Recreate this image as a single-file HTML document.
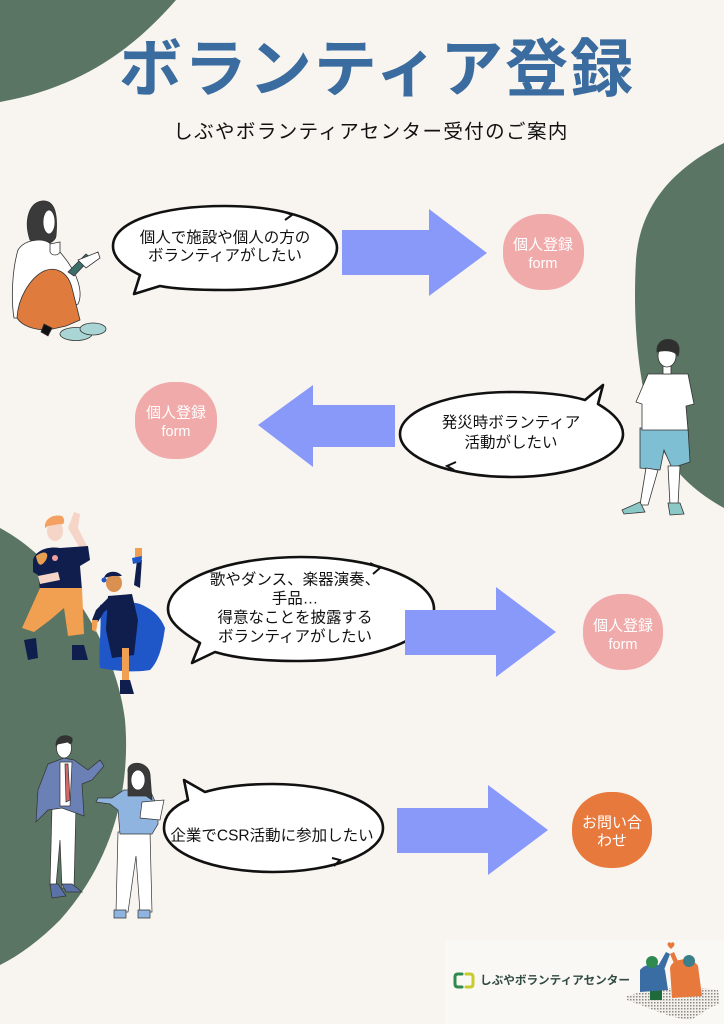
<!DOCTYPE html>
<html lang="ja">
<head>
<meta charset="utf-8">
<style>
  html,body{margin:0;padding:0;background:#f8f5f0;}
  body{width:724px;height:1024px;overflow:hidden;}
  svg{display:block;}
  text{font-family:"Liberation Sans","Noto Sans CJK JP",sans-serif;}
</style>
</head>
<body>
<svg width="724" height="1024" viewBox="0 0 724 1024" xmlns="http://www.w3.org/2000/svg">
  <defs>
    <pattern id="hatch" width="3" height="3" patternUnits="userSpaceOnUse">
      <rect width="3" height="3" fill="#f3f0ea"/>
      <rect width="1.5" height="1.5" fill="#8a8a8a"/>
    </pattern>
  </defs>
  <rect width="724" height="1024" fill="#f8f5f0"/>

  <!-- green blobs -->
  <path d="M0,0 L176,0 C145,35 95,85 0,102 Z" fill="#5a7563"/>
  <path d="M724,143 C680,165 640,200 636,260 C632,330 640,400 660,445 C675,475 700,495 724,508 Z" fill="#5a7563"/>
  <path d="M0,528 C60,560 115,640 125,720 C132,800 105,870 60,920 C40,940 20,955 0,965 Z" fill="#5a7563"/>

  <!-- title -->
  <text x="377" y="70" font-size="63" font-weight="700" fill="#3b6c9f" text-anchor="middle" dominant-baseline="central" letter-spacing="2">ボランティア登録</text>
  <text x="371" y="132" font-size="19.5" fill="#111" text-anchor="middle" dominant-baseline="central" letter-spacing="1.4">しぶやボランティアセンター受付のご案内</text>

  <!-- ========== ROW 1 ========== -->
  <!-- woman sitting -->
  <g stroke="#333" stroke-width="0.8">
    <path d="M30,240 C24,222 28,203 42,201 C55,200 58,214 56,236 C55,244 40,248 30,240 Z" fill="#3a3a3a"/>
    <ellipse cx="49" cy="222" rx="6" ry="12" fill="#fff"/>
    <path d="M18,250 C24,240 40,238 48,242 C58,248 66,258 74,272 C80,284 82,296 78,304 L40,318 L14,318 C11,300 12,270 18,250 Z" fill="#fff"/>
    <path d="M50,244 L60,242 L60,252 C58,256 52,256 50,252 Z" fill="#fff"/>
    <path d="M68,272 L86,254 L91,258 L74,276 Z" fill="#3c6e6a"/>
    <path d="M78,260 L98,252 L100,258 L86,268 Z" fill="#fff"/>
    <path d="M17,318 C18,298 30,278 44,271 C56,266 68,272 72,288 L80,320 L66,326 L48,330 C34,330 22,326 17,318 Z" fill="#e07b3e"/>
    <path d="M44,324 L52,328 L48,336 L41,332 Z" fill="#111"/>
    <ellipse cx="76" cy="334" rx="16" ry="6.5" fill="#a9d6d4"/>
    <ellipse cx="93" cy="329" rx="13" ry="6" fill="#a9d6d4"/>
  </g>

  <!-- bubble 1 -->
  <path d="M160,286 L134,294 L140,275 C119,265 113,255 113,246 C113,222 160,206 225,206 C290,206 337,225 337,248 C337,272 290,290 225,290 C195,290 175,289 160,286 Z" fill="#fff" stroke="#111" stroke-width="2.6" stroke-linejoin="round"/>
  <path d="M282,211 L292,215 L285,220" fill="none" stroke="#111" stroke-width="2"/>
  <text x="225" y="238" font-size="15.5" fill="#111" text-anchor="middle" dominant-baseline="central">個人で施設や個人の方の</text>
  <text x="225" y="256" font-size="15.5" fill="#111" text-anchor="middle" dominant-baseline="central">ボランティアがしたい</text>

  <!-- arrow 1 -->
  <polygon points="342,230 429,230 429,209 487,253 429,296 429,275 342,275" fill="#8899fa"/>

  <!-- pink 1 -->
  <rect x="503" y="214" width="81" height="76" rx="38" ry="36" fill="#efaaa9"/>
  <text x="543" y="245" font-size="15" fill="#fff" text-anchor="middle" dominant-baseline="central">個人登録</text>
  <text x="543" y="264" font-size="14.5" fill="#fff" text-anchor="middle" dominant-baseline="central">form</text>

  <!-- ========== ROW 2 ========== -->
  <g stroke="#333" stroke-width="0.8">
    <path d="M640,428 L688,428 L690,462 L672,468 L664,450 L660,470 L640,468 Z" fill="#7fbfd3"/>
    <path d="M646,468 L658,470 L648,505 L640,505 Z" fill="#fff"/>
    <path d="M668,466 L680,466 L678,505 L670,505 Z" fill="#fff"/>
    <path d="M622,510 L640,502 L645,512 L624,514 Z" fill="#8cc8c6"/>
    <path d="M668,503 L680,503 L684,514 L670,515 Z" fill="#8cc8c6"/>
    <path d="M648,374 L688,374 L694,404 L686,406 L688,430 L642,430 L642,404 L636,402 Z" fill="#fff"/>
    <rect x="663" y="362" width="8" height="12" fill="#fff"/>
    <ellipse cx="667" cy="356" rx="9" ry="11" fill="#fff"/>
    <path d="M657,352 C656,342 664,338 672,340 C680,342 680,350 678,356 C674,350 664,350 657,352 Z" fill="#2f2f2f"/>
  </g>

  <!-- bubble 2 -->
  <path d="M585,400 L603,385 L598,404 C615,414 623,424 623,434 C623,458 573,477 512,477 C450,477 400,458 400,434 C400,410 450,392 512,392 C545,392 568,395 585,400 Z" fill="#fff" stroke="#111" stroke-width="2.6" stroke-linejoin="round"/>
  <path d="M456,462 L447,466 L454,470" fill="none" stroke="#111" stroke-width="2"/>
  <text x="511" y="423" font-size="15.5" fill="#111" text-anchor="middle" dominant-baseline="central">発災時ボランティア</text>
  <text x="511" y="443" font-size="15.5" fill="#111" text-anchor="middle" dominant-baseline="central">活動がしたい</text>

  <!-- arrow 2 (left) -->
  <polygon points="395,405 313,405 313,385 258,425 313,467 313,447 395,447" fill="#8899fa"/>

  <!-- pink 2 -->
  <rect x="135" y="382" width="82" height="77" rx="38" ry="36" fill="#efaaa9"/>
  <text x="176" y="413" font-size="15" fill="#fff" text-anchor="middle" dominant-baseline="central">個人登録</text>
  <text x="176" y="432" font-size="14.5" fill="#fff" text-anchor="middle" dominant-baseline="central">form</text>

  <!-- ========== ROW 3 ========== -->
  <g>
    <path d="M68,528 L74,512 L80,514 L78,528 L88,548 L82,552 Z" fill="#f5d5c8"/>
    <path d="M33,560 C36,550 48,546 60,548 L88,546 L90,560 L80,566 L82,590 L40,590 L38,575 L33,572 Z" fill="#0f1e4d"/>
    <path d="M36,556 C44,550 50,552 46,560 C42,566 38,568 36,556 Z" fill="#e6a050"/>
    <circle cx="55" cy="558" r="3" fill="#f0a0a0"/>
    <path d="M38,576 L58,572 L60,580 L40,584 Z" fill="#f5d5c8"/>
    <path d="M40,588 L82,588 L84,634 L68,636 L64,608 L50,620 L34,632 L22,628 Z" fill="#f0a050"/>
    <path d="M24,640 L36,638 L38,658 L28,660 Z" fill="#0f1e4d"/>
    <path d="M72,645 L84,645 L88,660 L72,660 Z" fill="#0f1e4d"/>
    <ellipse cx="55" cy="531" rx="8" ry="10" fill="#f5d5c8"/>
    <path d="M45,528 C44,518 54,514 62,516 C66,520 64,526 60,524 L48,526 Z" fill="#f3a060"/>
    <path d="M134,585 L137,560 L142,558 L140,588 Z" fill="#0f1e4d"/>
    <path d="M135,548 L142,548 L142,560 L135,560 Z" fill="#f0a050"/>
    <path d="M132,558 L142,556 L141,562 L133,564 Z" fill="#1f56c8"/>
    <path d="M100,605 C110,602 125,600 140,604 C150,608 160,615 165,628 C163,642 160,660 150,670 C140,672 120,672 100,668 C98,652 102,630 100,605 Z" fill="#1f56c8"/>
    <path d="M108,596 L132,594 L138,620 L134,655 L112,658 L106,630 Z" fill="#0f1e4d"/>
    <path d="M108,598 L96,610 L92,620 L98,622 L104,612 L112,606 Z" fill="#0f1e4d"/>
    <path d="M92,620 L98,620 L96,632 L92,630 Z" fill="#f0a050"/>
    <path d="M122,648 L129,648 L129,682 L122,682 Z" fill="#f0a050"/>
    <path d="M120,680 L130,680 L134,694 L120,694 Z" fill="#0f1e4d"/>
    <ellipse cx="114" cy="583" rx="8" ry="9" fill="#d99050"/>
    <path d="M104,578 C106,570 118,570 122,576 L112,576 Z" fill="#0f1e4d"/>
    <circle cx="104" cy="580" r="2.5" fill="#1f56c8"/>
  </g>

  <!-- bubble 3 -->
  <path d="M215,652 L192,663 L200,643 C178,630 168,620 168,609 C168,580 227,557 301,557 C375,557 434,580 434,609 C434,638 375,661 301,661 C260,661 235,658 215,652 Z" fill="#fff" stroke="#111" stroke-width="2.6" stroke-linejoin="round"/>
  <path d="M370,563 L380,568 L373,574" fill="none" stroke="#111" stroke-width="2"/>
  <text x="295" y="580" font-size="15.5" fill="#111" text-anchor="middle" dominant-baseline="central">歌やダンス、楽器演奏、</text>
  <text x="295" y="599" font-size="15.5" fill="#111" text-anchor="middle" dominant-baseline="central">手品…</text>
  <text x="295" y="618" font-size="15.5" fill="#111" text-anchor="middle" dominant-baseline="central">得意なことを披露する</text>
  <text x="295" y="637" font-size="15.5" fill="#111" text-anchor="middle" dominant-baseline="central">ボランティアがしたい</text>

  <!-- arrow 3 -->
  <polygon points="405,610 496,610 496,587 556,632 496,677 496,655 405,655" fill="#8899fa"/>

  <!-- pink 3 -->
  <rect x="583" y="594" width="80" height="76" rx="38" ry="36" fill="#efaaa9"/>
  <text x="623" y="626" font-size="15" fill="#fff" text-anchor="middle" dominant-baseline="central">個人登録</text>
  <text x="623" y="645" font-size="14.5" fill="#fff" text-anchor="middle" dominant-baseline="central">form</text>

  <!-- ========== ROW 4 ========== -->
  <g stroke="#333" stroke-width="0.7">
    <path d="M52,806 L76,806 L74,888 L62,888 L60,840 L56,886 L50,886 Z" fill="#fff"/>
    <path d="M50,884 L58,884 L66,896 L52,898 Z" fill="#5a72a8"/>
    <path d="M62,884 L72,884 L82,892 L66,892 Z" fill="#5a72a8"/>
    <path d="M48,764 L64,758 L74,760 L88,770 L100,760 L104,766 L92,780 L82,784 L84,816 L62,808 L48,810 L36,822 L38,790 Z" fill="#6b80b4"/>
    <path d="M60,762 L72,762 L70,806 L60,806 Z" fill="#fff"/>
    <path d="M65,764 L68,764 L70,800 L66,802 Z" fill="#d06a6a"/>
    <ellipse cx="64" cy="748" rx="7.5" ry="10" fill="#fff"/>
    <path d="M56,746 C55,736 66,733 72,738 C73,744 70,745 68,742 L58,744 Z" fill="#333"/>
    <path d="M118,832 L150,832 L152,912 L140,912 L136,856 L128,912 L116,912 Z" fill="#fff"/>
    <path d="M114,910 L126,910 L126,918 L114,918 Z" fill="#8fb4e0"/>
    <path d="M138,910 L150,910 L150,918 L138,918 Z" fill="#8fb4e0"/>
    <path d="M124,790 L150,790 L158,808 L158,824 L152,834 L120,834 L118,810 L110,804 L96,802 L98,798 L112,798 Z" fill="#8fb4e0"/>
    <path d="M142,802 L164,800 L160,820 L140,818 Z" fill="#fff"/>
    <path d="M128,772 C126,760 148,760 150,774 L152,800 L146,796 L128,796 Z" fill="#3a3a3a"/>
    <ellipse cx="138" cy="780" rx="7" ry="10" fill="#fff"/>
  </g>

  <!-- bubble 4 -->
  <path d="M188,800 L184,780 L205,792 C225,786 248,784 273,784 C333,784 383,803 383,828 C383,853 333,872 273,872 C213,872 164,853 164,828 C164,815 174,806 188,800 Z" fill="#fff" stroke="#111" stroke-width="2.6" stroke-linejoin="round"/>
  <path d="M332,858 L340,860 L334,866" fill="none" stroke="#111" stroke-width="2"/>
  <text x="272" y="836" font-size="15.5" fill="#111" text-anchor="middle" dominant-baseline="central">企業でCSR活動に参加したい</text>

  <!-- arrow 4 -->
  <polygon points="397,808 488,808 488,785 548,830 488,875 488,853 397,853" fill="#8899fa"/>

  <!-- orange -->
  <rect x="572" y="792" width="80" height="76" rx="38" ry="36" fill="#e8793d"/>
  <text x="612" y="823" font-size="15" fill="#fff" text-anchor="middle" dominant-baseline="central">お問い合</text>
  <text x="612" y="841" font-size="15" fill="#fff" text-anchor="middle" dominant-baseline="central">わせ</text>

  <!-- ========== LOGO ========== -->
  <rect x="445" y="940" width="279" height="84" fill="#faf8f4"/>
  <path d="M462,974 L458,974 C456,974 455,975 455,977 L455,984 C455,986 456,987 458,987 L462,987" fill="none" stroke="#2e8a4e" stroke-width="3" stroke-linecap="round"/>
  <path d="M466,974 L470,974 C472,974 473,975 473,977 L473,984 C473,986 472,987 470,987 L466,987" fill="none" stroke="#c8cc2a" stroke-width="3" stroke-linecap="round"/>
  <text x="480" y="981" font-size="11.4" font-weight="700" fill="#2f4a42" dominant-baseline="central" textLength="150" lengthAdjust="spacingAndGlyphs">しぶやボランティアセンター</text>
  <path d="M627,996 C650,988 690,985 718,990 L720,1004 C705,1008 700,1016 690,1020 C670,1018 650,1008 627,1000 Z" fill="url(#hatch)"/>
  <path d="M650,985 L662,985 L662,1000 L650,1000 Z" fill="#1e6a3a"/>
  <path d="M640,970 C645,963 660,962 665,970 L668,990 L640,992 Z" fill="#3a6da3"/>
  <path d="M658,966 L666,952 L670,954 L664,970 Z" fill="#3a6da3"/>
  <circle cx="652" cy="962" r="6" fill="#2e8a4e"/>
  <path d="M670,968 C672,958 692,956 698,966 L702,996 L672,998 Z" fill="#e8793d"/>
  <path d="M670,954 L676,968 L680,966 L674,952 Z" fill="#e8793d"/>
  <circle cx="689" cy="961" r="6" fill="#3a7f8a"/>
  <path d="M668,946 C666,942 671,941 671,944 C671,941 676,942 674,946 L671,949 Z" fill="#e8793d"/>
</svg>
</body>
</html>
